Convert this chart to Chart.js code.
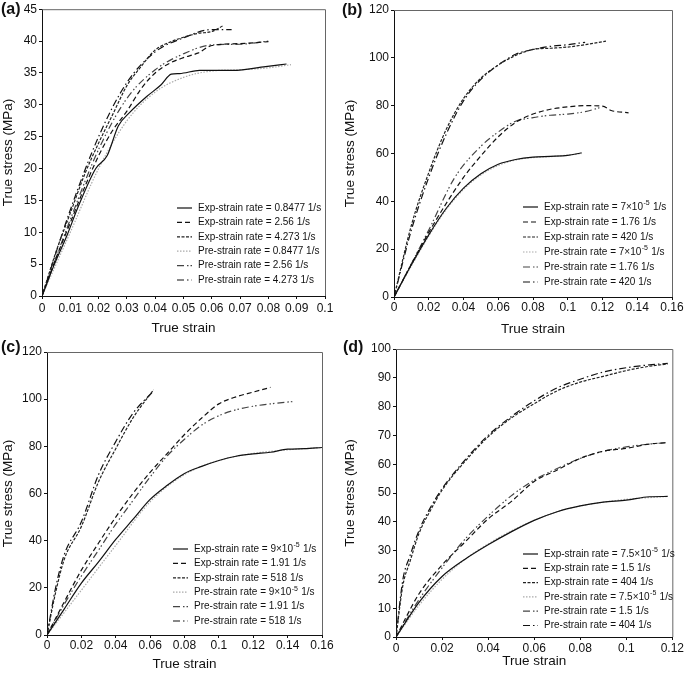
<!DOCTYPE html>
<html>
<head>
<meta charset="utf-8">
<script src="https://cdn.jsdelivr.net/npm/chart.js@4.4.1/dist/chart.umd.min.js"></script>
<style>
  body { margin: 0; background: #fff; }
  #wrap { position: relative; width: 685px; height: 674px; font-family: "Liberation Sans", Arial, sans-serif; }
  canvas { position: absolute; }
  .tag { position: absolute; font-weight: bold; font-size: 16px; color: #111; }
</style>
</head>
<body>
<div id="wrap">
  <canvas id="ca" width="340" height="337" style="left:0;top:0"></canvas>
  <canvas id="cb" width="343" height="337" style="left:342px;top:0"></canvas>
  <canvas id="cc" width="340" height="337" style="left:0;top:337px"></canvas>
  <canvas id="cd" width="343" height="337" style="left:342px;top:337px"></canvas>
  <div class="tag" style="left:1px;top:0">(a)</div>
  <div class="tag" style="left:342px;top:1px">(b)</div>
  <div class="tag" style="left:1px;top:338px">(c)</div>
  <div class="tag" style="left:343px;top:338px">(d)</div>
</div>
<script>
// (a) strain rates 0.8477, 2.56, 4.273 1/s
const aLabels = ["Exp-strain rate = 0.8477 1/s", "Exp-strain rate = 2.56 1/s", "Exp-strain rate = 4.273 1/s",
  "Pre-strain rate = 0.8477 1/s", "Pre-strain rate = 2.56 1/s", "Pre-strain rate = 4.273 1/s"];
const aExpLow = [[0,0],[0.0044,5],[0.009,9.7],[0.0126,13.8],[0.019,20],[0.023,22],[0.027,26.7],[0.031,28.8],[0.037,31.3],[0.042,33.1],[0.0457,34.8],[0.0486,34.9],[0.0557,35.4],[0.0616,35.4],[0.0675,35.4],[0.079,36],[0.0864,36.4]];
const aExpMid = [[0,0],[0.005,6],[0.01,11.5],[0.015,17],[0.02,22],[0.025,26],[0.03,29],[0.035,32.5],[0.04,35],[0.045,36.5],[0.05,37.4],[0.055,38.1],[0.06,39.3],[0.07,39.6],[0.08,39.9]];
const aExpHigh = [[0,0],[0.005,7],[0.01,13],[0.015,19],[0.02,24],[0.025,28.5],[0.03,33],[0.035,36],[0.04,38.6],[0.045,39.8],[0.05,40.6],[0.055,41.2],[0.06,41.5],[0.064,42.4]];
const aPreLow = [[0,0],[0.01,10],[0.02,20],[0.03,27.5],[0.04,32],[0.05,34.3],[0.06,35.3],[0.07,35.5],[0.08,35.8],[0.088,36.3]];
const aPreMid = [[0,0],[0.01,12],[0.02,23],[0.03,31],[0.04,35.5],[0.05,38],[0.06,39.4],[0.07,39.5],[0.08,40]];
const aPreHigh = [[0,0],[0.01,13.5],[0.02,25],[0.03,33.5],[0.04,38.3],[0.05,40.5],[0.06,41.8],[0.067,41.8]];

// (b) strain rates 7e-5, 1.76, 420 1/s
const bLabels = ["Exp-strain rate = 7×10⁻⁵ 1/s", "Exp-strain rate = 1.76 1/s", "Exp-strain rate = 420 1/s",
  "Pre-strain rate = 7×10⁻⁵ 1/s", "Pre-strain rate = 1.76 1/s", "Pre-strain rate = 420 1/s"];
const bExpLow = [[0,0],[0.01,13.5],[0.02,26],[0.03,37],[0.04,45.5],[0.05,51.5],[0.06,55.5],[0.07,57.5],[0.08,58.5],[0.09,58.8],[0.1,59.2],[0.108,60.3]];
const bExpMid = [[0,0],[0.02,27],[0.04,50],[0.05,59],[0.06,67],[0.07,73],[0.08,76.5],[0.09,78.5],[0.1,79.5],[0.11,80],[0.12,79.8],[0.125,78],[0.135,77]];
const bExpHigh = [[0,0],[0.01,30],[0.02,52],[0.03,70],[0.04,83],[0.05,91.5],[0.06,97],[0.07,101],[0.08,103.5],[0.09,104],[0.1,104.5],[0.11,105.5],[0.122,107]];
const bPreLow = [[0,0],[0.01,13],[0.02,25.5],[0.03,36.5],[0.04,45],[0.05,51],[0.06,55],[0.07,57.3],[0.08,58.3],[0.09,58.7],[0.1,59.3],[0.108,60]];
const bPreMid = [[0,0],[0.02,28],[0.035,50],[0.05,63],[0.06,69],[0.07,73.5],[0.08,75],[0.09,76],[0.1,76.5],[0.11,77.5],[0.12,79.5]];
const bPreHigh = [[0,0],[0.01,28],[0.02,50],[0.03,68],[0.04,82],[0.05,91],[0.06,97],[0.07,101.5],[0.08,103.5],[0.09,104.8],[0.1,105.5],[0.11,106.5]];

// (c) strain rates 9e-5, 1.91, 518 1/s
const cLabels = ["Exp-strain rate = 9×10⁻⁵ 1/s", "Exp-strain rate = 1.91 1/s", "Exp-strain rate = 518 1/s",
  "Pre-strain rate = 9×10⁻⁵ 1/s", "Pre-strain rate = 1.91 1/s", "Pre-strain rate = 518 1/s"];
const cExpLow = [[0,0],[0.01,11],[0.02,22],[0.03,31],[0.04,40.5],[0.05,49],[0.06,57.5],[0.07,63.5],[0.08,68.5],[0.09,71.5],[0.1,74],[0.11,75.8],[0.12,76.8],[0.13,77.5],[0.14,78.8],[0.15,79],[0.16,79.5]];
const cExpMid = [[0,0],[0.01,14],[0.02,27.5],[0.03,39],[0.04,50],[0.05,60],[0.06,69],[0.07,77],[0.08,85],[0.09,92],[0.1,98],[0.11,101],[0.12,103],[0.13,105]];
const cExpHigh = [[0,0],[0.005,18],[0.01,32],[0.02,46],[0.03,65],[0.04,79],[0.05,92],[0.062,104]];
const cPreLow = [[0,0],[0.02,19],[0.04,38],[0.06,56.5],[0.08,68],[0.1,74],[0.12,77],[0.14,78.5],[0.16,79.5]];
const cPreMid = [[0,0],[0.01,13],[0.02,25],[0.03,36],[0.04,47],[0.05,57],[0.06,67],[0.07,76],[0.08,83],[0.09,89],[0.1,93],[0.11,95.5],[0.12,97],[0.13,98],[0.143,99]];
const cPreHigh = [[0,0],[0.005,20],[0.01,34],[0.02,48],[0.03,68],[0.04,82],[0.05,94],[0.062,103.5]];

// (d) strain rates 7.5e-5, 1.5, 404 1/s
const dLabels = ["Exp-strain rate = 7.5×10⁻⁵ 1/s", "Exp-strain rate = 1.5 1/s", "Exp-strain rate = 404 1/s",
  "Pre-strain rate = 7.5×10⁻⁵ 1/s", "Pre-strain rate = 1.5 1/s", "Pre-strain rate = 404 1/s"];
const dExpLow = [[0,0],[0.01,12],[0.02,21],[0.03,27],[0.04,32],[0.05,36.5],[0.06,40.5],[0.07,43.5],[0.08,45.5],[0.09,46.8],[0.1,47.5],[0.11,48.7],[0.118,48.8]];
const dExpMid = [[0,0],[0.01,15],[0.02,25],[0.03,33],[0.04,41],[0.05,47],[0.06,54],[0.07,58],[0.08,62],[0.09,64.5],[0.1,65.5],[0.11,67],[0.118,67.5]];
const dExpHigh = [[0,0],[0.003,18],[0.006,26],[0.01,36],[0.015,44],[0.02,51],[0.03,61],[0.04,69.5],[0.05,76],[0.06,81],[0.07,85.5],[0.08,88.5],[0.09,90.5],[0.1,92.5],[0.11,94],[0.118,94.8]];
const dPreLow = [[0,0],[0.01,11],[0.02,20],[0.03,27],[0.04,32.3],[0.05,36.8],[0.06,40.5],[0.07,43.5],[0.08,45.5],[0.09,46.8],[0.1,47.8],[0.118,48.8]];
const dPreMid = [[0,0],[0.01,13],[0.02,24],[0.03,34],[0.04,42],[0.05,49],[0.06,54.5],[0.07,58.5],[0.08,62],[0.09,64.5],[0.1,66],[0.11,67],[0.118,67.5]];
const dPreHigh = [[0,0],[0.003,20],[0.006,28],[0.01,37],[0.015,45],[0.02,51.5],[0.03,61.5],[0.04,70],[0.05,76.5],[0.06,82],[0.07,86.5],[0.08,89.5],[0.09,92],[0.1,93.5],[0.11,94.5],[0.118,95]];

// line styles, same order as the legend
const styles = [
  { color: "#111", dash: [] },
  { color: "#111", dash: [5, 3] },
  { color: "#222", dash: [3, 1.5] },
  { color: "#aaa", dash: [1.5, 1.5] },
  { color: "#444", dash: [7, 3, 1.5, 2, 1.5, 3] },
  { color: "#111", dash: [7, 3, 1.5, 3] },
];

const FONT = "'Liberation Sans', Arial, sans-serif";
const SUP = "⁻⁵";

// top/right frame + legend inside the plot
const framePlugin = {
  id: "frame",
  afterDraw(chart, args, opts) {
    const { ctx, chartArea: a } = chart;
    ctx.save();
    ctx.strokeStyle = "#666";
    ctx.lineWidth = 1;
    ctx.beginPath();
    ctx.moveTo(a.left, a.top + 0.5);
    ctx.lineTo(a.right + 0.5, a.top + 0.5);
    ctx.lineTo(a.right + 0.5, a.bottom);
    ctx.stroke();
    ctx.textBaseline = "middle";
    chart.data.datasets.forEach((ds, i) => {
      const y = opts.y + i * opts.step;
      ctx.strokeStyle = ds.borderColor;
      ctx.lineWidth = ds.borderWidth;
      ctx.setLineDash(ds.borderDash);
      ctx.beginPath();
      ctx.moveTo(opts.x, y);
      ctx.lineTo(opts.x + 15, y);
      ctx.stroke();
      ctx.setLineDash([]);
      ctx.fillStyle = "#111";
      // superscript exponent drawn small and raised
      const parts = ds.label.split(SUP);
      let tx = opts.x + 21;
      ctx.font = "10px " + FONT;
      ctx.fillText(parts[0], tx, y);
      if (parts.length > 1) {
        tx += ctx.measureText(parts[0]).width;
        ctx.font = "7px " + FONT;
        ctx.fillText("-5", tx + 0.5, y - 3.5);
        tx += ctx.measureText("-5").width + 1;
        ctx.font = "10px " + FONT;
        ctx.fillText(parts[1], tx, y);
      }
    });
    ctx.restore();
  },
};

function fmt(v) {
  return String(Number(v.toFixed(3)));
}

function makeChart(id, labels, curves, box, xMax, xStep, yMax, yStep, leg) {
  const canvas = document.getElementById(id);
  new Chart(canvas, {
    type: "line",
    data: {
      datasets: curves.map((pts, i) => ({
        label: labels[i],
        data: pts.map(p => ({ x: p[0], y: p[1] })),
        borderColor: styles[i].color,
        borderDash: styles[i].dash,
        borderWidth: 1.2,
        pointRadius: 0,
        fill: false,
        cubicInterpolationMode: "monotone",
      })),
    },
    options: {
      responsive: false,
      animation: false,
      devicePixelRatio: 1,
      layout: { padding: { left: 0, top: box.top, right: canvas.width - box.right, bottom: 0 } },
      plugins: { legend: { display: false }, tooltip: { enabled: false }, frame: leg },
      scales: {
        x: {
          type: "linear", min: 0, max: xMax,
          afterFit: s => { s.height = canvas.height - box.bottom; },
          ticks: { stepSize: xStep, color: "#111", font: { size: 12 }, maxRotation: 0, padding: box.tickPad, callback: fmt },
          grid: { drawOnChartArea: false, tickLength: 3, color: "#111" },
          border: { color: "#111" },
          title: { display: true, text: "True strain", color: "#111", font: { size: 13.5 }, padding: { top: 4, bottom: box.titlePad } },
        },
        y: {
          min: 0, max: yMax,
          afterFit: s => { s.width = box.left; },
          ticks: { stepSize: yStep, color: "#111", font: { size: 12 }, padding: 2, callback: fmt },
          grid: { drawOnChartArea: false, tickLength: 3, color: "#111" },
          border: { color: "#111" },
          title: { display: true, text: "True stress (MPa)", color: "#111", font: { size: 13.5 }, padding: 0 },
        },
      },
    },
    plugins: [framePlugin],
  });
}

Chart.defaults.font.family = FONT;

makeChart("ca", aLabels, [aExpLow, aExpMid, aExpHigh, aPreLow, aPreMid, aPreHigh],
  { left: 42, right: 325, top: 5, bottom: 296, titlePad: 1, tickPad: 2 }, 0.1, 0.01, 45, 5, { x: 177, y: 208, step: 14.4 });
makeChart("cb", bLabels, [bExpLow, bExpMid, bExpHigh, bPreLow, bPreMid, bPreHigh],
  { left: 52, right: 330, top: 10, bottom: 297, titlePad: 0, tickPad: 0 }, 0.16, 0.02, 120, 20, { x: 181, y: 207, step: 15 });
makeChart("cc", cLabels, [cExpLow, cExpMid, cExpHigh, cPreLow, cPreMid, cPreHigh],
  { left: 47, right: 322, top: 15, bottom: 298, titlePad: 2, tickPad: 0 }, 0.16, 0.02, 120, 20, { x: 173, y: 212, step: 14.4 });
makeChart("cd", dLabels, [dExpLow, dExpMid, dExpHigh, dPreLow, dPreMid, dPreHigh],
  { left: 54, right: 331, top: 12, bottom: 300, titlePad: 5, tickPad: 1 }, 0.12, 0.02, 100, 10, { x: 181, y: 217, step: 14.3 });
</script>
</body>
</html>
